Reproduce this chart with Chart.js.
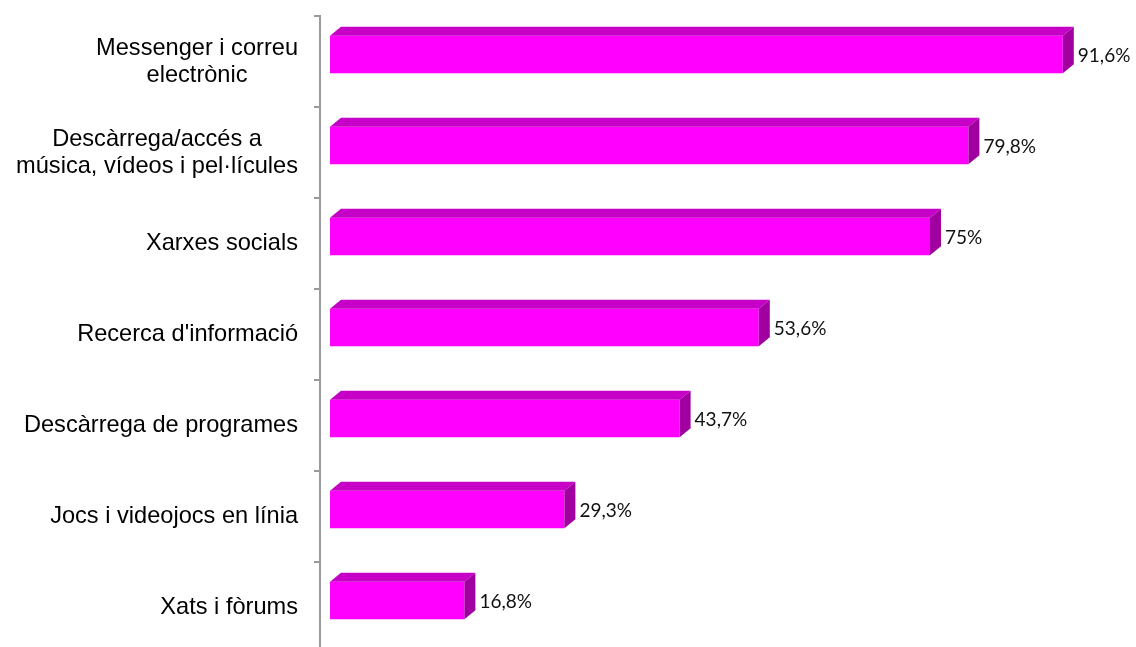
<!DOCTYPE html>
<html>
<head>
<meta charset="utf-8">
<script src="https://cdn.jsdelivr.net/npm/chart.js@4.4.1/dist/chart.umd.min.js"></script>
<style>
  html, body { margin: 0; padding: 0; background: #ffffff; overflow: hidden; }
  #wrap { width: 1136px; height: 660px; }
</style>
</head>
<body>
<div id="wrap"><canvas id="c" width="1136" height="660"></canvas></div>
<script>
// ---- data ----
const categories = [
  ["Messenger i correu", "electrònic"],
  ["Descàrrega/accés a", "música, vídeos i pel·lícules"],
  "Xarxes socials",
  "Recerca d'informació",
  "Descàrrega de programes",
  "Jocs i videojocs en línia",
  "Xats i fòrums"
];
const values = [91.6, 79.8, 75, 53.6, 43.7, 29.3, 16.8];
const valueLabels = ["91,6%", "79,8%", "75%", "53,6%", "43,7%", "29,3%", "16,8%"];

// ---- style ----
const FRONT = '#FF00FF';
const TOP = '#C600C6';
const SIDE = '#A000A0';
const DEPTH_X = 11, DEPTH_Y = 9, SHIFT_Y = -7;

const bars3d = {
  id: 'bars3d',
  beforeDatasetsDraw(chart) {
    chart.ctx.save();
    chart.ctx.translate(0, SHIFT_Y);
  },
  afterDatasetsDraw(chart) {
    const ctx = chart.ctx;
    const meta = chart.getDatasetMeta(0);
    meta.data.forEach((el, i) => {
      const p = el.getProps(['x', 'y', 'base', 'height'], true);
      const left = Math.min(p.base, p.x), right = Math.max(p.base, p.x);
      const top = p.y - p.height / 2, bottom = p.y + p.height / 2;
      // top face
      ctx.fillStyle = TOP;
      ctx.beginPath();
      ctx.moveTo(left, top);
      ctx.lineTo(left + DEPTH_X, top - DEPTH_Y);
      ctx.lineTo(right + DEPTH_X, top - DEPTH_Y);
      ctx.lineTo(right, top);
      ctx.closePath();
      ctx.fill();
      // side face
      ctx.fillStyle = SIDE;
      ctx.beginPath();
      ctx.moveTo(right, top);
      ctx.lineTo(right + DEPTH_X, top - DEPTH_Y);
      ctx.lineTo(right + DEPTH_X, bottom - DEPTH_Y);
      ctx.lineTo(right, bottom);
      ctx.closePath();
      ctx.fill();
      // value label
      ctx.fillStyle = '#111111';
      ctx.font = '19px Lato, "Open Sans", sans-serif';
      ctx.textAlign = 'left';
      ctx.textBaseline = 'middle';
      ctx.fillText(valueLabels[i], right + DEPTH_X + 4, p.y + 1);
    });
    ctx.restore();
  }
};

const catLabels = {
  id: 'catLabels',
  afterDraw(chart) {
    const ctx = chart.ctx;
    const ys = chart.scales.y;
    ctx.save();
    ctx.font = '23.6px "Liberation Sans", Arial, sans-serif';
    ctx.fillStyle = '#000000';
    ctx.textBaseline = 'middle';
    ctx.textAlign = 'center';
    const lineH = 27;
    const rightEdge = chart.chartArea.left - 22;
    categories.forEach((lab, i) => {
      const lines = Array.isArray(lab) ? lab : [lab];
      const maxW = Math.max(...lines.map(l => ctx.measureText(l).width));
      const cx = rightEdge - maxW / 2;
      const cy = ys.getPixelForValue(i);
      const y0 = cy - (lines.length - 1) * lineH / 2;
      lines.forEach((l, k) => ctx.fillText(l, cx, y0 + k * lineH));
    });
    ctx.restore();
  }
};

new Chart(document.getElementById('c'), {
  type: 'bar',
  data: {
    labels: categories,
    datasets: [{
      data: values,
      backgroundColor: FRONT,
      borderWidth: 0,
      categoryPercentage: 1,
      barPercentage: 0.41
    }]
  },
  options: {
    indexAxis: 'y',
    responsive: false,
    animation: false,
    devicePixelRatio: 1,
    layout: { padding: { top: 16, bottom: 7, left: 0, right: 6 } },
    plugins: { legend: { display: false }, tooltip: { enabled: false } },
    scales: {
      x: {
        display: false,
        min: -1.25,
        max: 100
      },
      y: {
        afterFit(scale) { scale.width = 320; },
        ticks: { display: false },
        grid: {
          display: true,
          drawOnChartArea: false,
          drawTicks: true,
          tickLength: 6,
          color: '#9a9a9a',
          lineWidth: 2,
          offset: true
        },
        border: { display: true, color: '#9a9a9a', width: 2 }
      }
    }
  },
  plugins: [bars3d, catLabels]
});
</script>
</body>
</html>
